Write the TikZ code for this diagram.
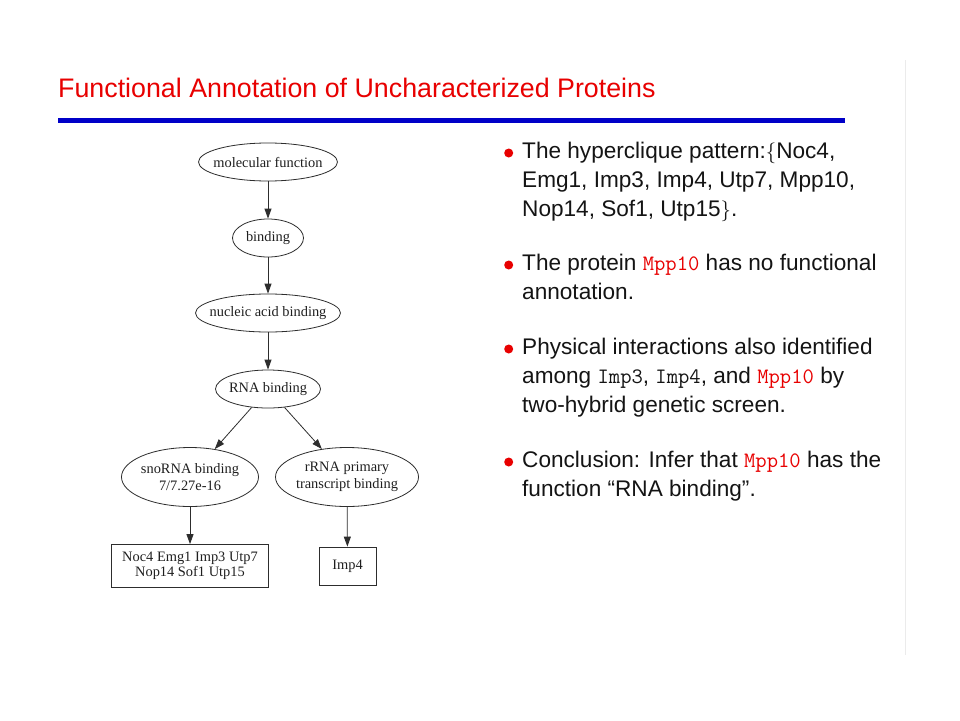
\documentclass[tikz,border=0pt]{standalone}
\usepackage{fontspec}
\setmainfont{Liberation Sans}
\newfontfamily\graphfont{Liberation Serif}
\usetikzlibrary{shapes.geometric,arrows.meta}
\definecolor{titlered}{RGB}{232,0,0}
\definecolor{rulblue}{RGB}{0,0,200}
\definecolor{gline}{RGB}{45,45,45}
\newcommand{\cd}[1]{{\ttfamily\fontsize{22}{28}\selectfont\addfontfeatures{FakeBold=0.8}#1}}
\newcommand{\mpp}{{\color{titlered}\cd{Mpp10}}}
\begin{document}
\begin{tikzpicture}[x=1pt,y=-1pt,
  ell/.style={draw=gline,ellipse,inner sep=0pt,line width=0.8pt},
  lab/.style={inner sep=0pt,font=\graphfont\fontsize{14.4}{17}\selectfont,text=black!88,align=center},
  gbox/.style={draw=gline,rectangle,inner sep=0pt,line width=0.8pt},
  edge/.style={draw=gline,line width=0.8pt,-{Triangle[length=10pt,width=7pt]}},
  txt/.style={anchor=base west,inner sep=0pt,font=\fontsize{22.6}{28}\selectfont,text=black!92},
  bul/.style={circle,fill=titlered,inner sep=0pt,minimum size=9pt}]
\useasboundingbox (0,0) rectangle (960,720);
\fill[white] (0,0) rectangle (960,720);
% faint frame line
\draw[black!8,line width=1pt] (905,60) -- (905,655);
% title
\node[anchor=base west,inner sep=0pt,text=titlered,font=\fontsize{26.8}{30}\selectfont] (title) at (58,97) {Functional Annotation of Uncharacterized Proteins};
\fill[rulblue] (58,118) rectangle (845,123);
% graph
\node[ell,minimum width=139pt,minimum height=38pt,label={[lab]center:molecular function}] (mf) at (268,162) {};
\node[ell,minimum width=71pt,minimum height=38pt,label={[lab]center:binding}] (bd) at (268,238) {};
\node[ell,minimum width=145pt,minimum height=38pt,label={[lab]center:nucleic acid binding}] (na) at (268,313) {};
\node[ell,minimum width=105pt,minimum height=38pt,label={[lab]center:RNA binding}] (rna) at (268,389) {};
\node[ell,minimum width=137pt,minimum height=59pt,label={[lab]center:{snoRNA binding\\7/7.27e-16}}] (sno) at (190,477) {};
\node[ell,minimum width=143pt,minimum height=59pt,label={[lab]center:{rRNA primary\\transcript binding}}] (rr) at (347,477) {};
\node[gbox,minimum width=157pt,minimum height=43pt,label={[lab,font=\graphfont\fontsize{14.4}{15.5}\selectfont]center:{Noc4 Emg1 Imp3 Utp7\\Nop14 Sof1 Utp15}}] (b1) at (190,566) {};
\node[gbox,minimum width=57pt,minimum height=38pt,label={[lab]center:Imp4}] (b2) at (347.5,566) {};
\draw[edge] (mf) -- (bd);
\draw[edge] (bd) -- (na);
\draw[edge] (na) -- (rna);
\draw[edge] (rna) -- (sno);
\draw[edge] (rna) -- (rr);
\draw[edge] (sno) -- (b1);
\draw[edge] (rr) -- (b2);
% bullets
\node[bul] (d1) at (508.7,153) {};
\node[txt] (l11) at (522,158) {The hyperclique pattern:$\{$Noc4,};
\node[txt] (l12) at (522,187) {Emg1, Imp3, Imp4, Utp7, Mpp10,};
\node[txt] (l13) at (522,216) {Nop14, Sof1, Utp15$\}$.};
\node[bul] (d2) at (508.7,265) {};
\node[txt] (l21) at (522,270) {The protein \mpp{} has no functional};
\node[txt] (l22) at (522,299) {annotation.};
\node[bul] (d3) at (508.7,349) {};
\node[txt] (l31) at (522,354) {Physical interactions also identified};
\node[txt] (l32) at (522,383) {among \cd{Imp3}, \cd{Imp4}, and \mpp{} by};
\node[txt] (l33) at (522,412) {two-hybrid genetic screen.};
\node[bul] (d4) at (508.7,462) {};
\node[txt] (l41) at (522,467) {Conclusion: Infer that \mpp{} has the};
\node[txt] (l42) at (522,496) {function “RNA binding”.};
\end{tikzpicture}
\end{document}
